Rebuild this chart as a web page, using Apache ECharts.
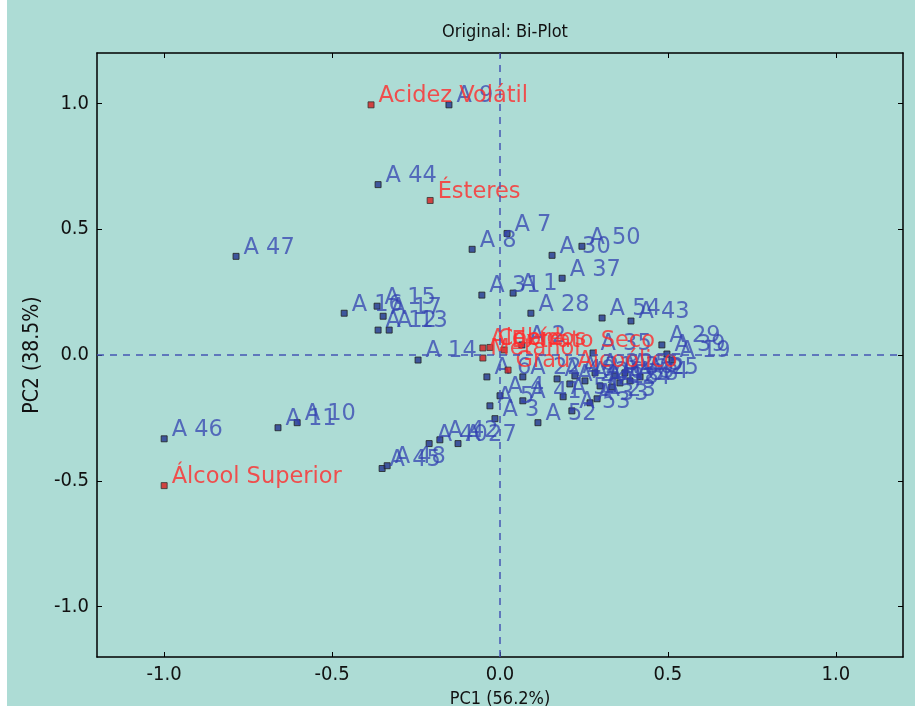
<!DOCTYPE html>
<html>
<head>
<meta charset="utf-8">
<script src="https://cdn.jsdelivr.net/npm/echarts@6/dist/echarts.min.js"></script>
<style>
html,body{margin:0;padding:0;background:#addcd5;}
#strip{position:absolute;left:0;top:0;width:7px;height:706px;background:#fff;z-index:2;}
#chart{position:absolute;left:0;top:0;width:915px;height:706px;}
</style>
</head>
<body>
<div id="chart"></div>
<div id="strip"></div>
<script>
// Sample scores (blue)
const sampleNames = ["A 9","A 44","A 47","A 7","A 8","A 30","A 50","A 37","A 31","A 1","A 28","A 54","A 43","A 29","A 39","A 19","A 35","A 2","A 6","A 22","A 4","A 5","A 41","A 3","A 52","A 40","A 42","A 27","A 45","A 48","A 46","A 11","A 10","A 16","A 15","A 17","A 12","A 13","A 14","A 49","A 51","A 20","A 53","A 33","A 21","A 26","A 18","A 32","A 24","A 36","A 38","A 55","A 34","A 25","A 23"];
const sampleX = [-0.152,-0.363,-0.786,0.021,-0.083,0.155,0.244,0.185,-0.054,0.039,0.092,0.304,0.390,0.482,0.497,0.512,0.277,0.065,-0.039,0.068,0.000,-0.030,0.068,-0.015,0.113,-0.211,-0.179,-0.125,-0.351,-0.336,-1.000,-0.661,-0.604,-0.464,-0.366,-0.348,-0.363,-0.330,-0.244,0.170,0.188,0.208,0.214,0.268,0.223,0.253,0.298,0.283,0.333,0.342,0.357,0.372,0.387,0.417,0.289];
const sampleY = [0.994,0.677,0.392,0.483,0.420,0.396,0.432,0.305,0.238,0.246,0.166,0.147,0.135,0.040,0.004,-0.020,0.008,0.040,-0.087,-0.087,-0.162,-0.202,-0.182,-0.253,-0.269,-0.352,-0.337,-0.352,-0.451,-0.440,-0.333,-0.289,-0.269,0.166,0.194,0.154,0.099,0.099,-0.020,-0.095,-0.166,-0.115,-0.222,-0.190,-0.083,-0.103,-0.123,-0.071,-0.127,-0.083,-0.111,-0.071,-0.103,-0.087,-0.174];

// Variable loadings (red)
const varNames = ["Acidez Volátil","Ésteres","Álcool Superior","Aldeídos","Cobre","Metanol","Extrato Seco","Grau Alcoólico"];
const varX = [-0.384,-0.208,-1.000,-0.051,-0.030,-0.051,0.012,0.024];
const varY = [0.994,0.614,-0.519,0.028,0.030,-0.012,0.020,-0.060];

const xTicks = [-1.0,-0.5,0.0,0.5,1.0];
const yTicks = [-1.0,-0.5,0.0,0.5,1.0];

const samples = sampleNames.map((n,i)=>({name:n,value:[sampleX[i],sampleY[i]]}));
const vars = varNames.map((n,i)=>({name:n,value:[varX[i],varY[i]]}));

const cond = "'DejaVu Sans Condensed','DejaVu Sans',sans-serif";
const chart = echarts.init(document.getElementById('chart'), null, {renderer:'canvas'});
const axisCommon = {
  type:'value', min:-1.2, max:1.2,
  axisLine:{show:true,onZero:false,lineStyle:{color:'#000',width:1.5}},
  splitLine:{show:false}
};
const labelBase = {show:true,position:[11,-5],align:'left',verticalAlign:'middle',formatter:'{b}',
  fontFamily:"'DejaVu Sans',sans-serif",fontSize:22.5,lineHeight:23};
chart.setOption({
  backgroundColor:'#addcd5',
  animation:false,
  title:{text:'Original: Bi-Plot',left:500,top:18,textAlign:'center',
    textStyle:{fontFamily:cond,fontSize:18,fontWeight:'normal',color:'#111'}},
  grid:{left:97,right:12,top:53,bottom:49,containLabel:false,outerBoundsMode:'none'},
  xAxis:[
    Object.assign({},axisCommon,{position:'bottom',name:'PC1 (56.2%)',nameLocation:'middle',nameGap:33,
      nameTextStyle:{fontFamily:cond,fontSize:18,color:'#111'},
      axisTick:{show:true,inside:true,length:5,customValues:xTicks,lineStyle:{color:'#000'}},
      axisLabel:{show:true,customValues:xTicks,margin:8,fontFamily:cond,fontSize:20,color:'#111',formatter:v=>v.toFixed(1)}}),
    Object.assign({},axisCommon,{position:'top',
      axisTick:{show:true,inside:true,length:5,customValues:xTicks,lineStyle:{color:'#000'}},
      axisLabel:{show:false}})
  ],
  yAxis:[
    Object.assign({},axisCommon,{position:'left',name:'PC2 (38.5%)',nameLocation:'middle',nameGap:53,nameRotate:90,
      nameTextStyle:{fontFamily:cond,fontSize:21,color:'#111'},
      axisTick:{show:true,inside:true,length:5,customValues:yTicks,lineStyle:{color:'#000'}},
      axisLabel:{show:true,customValues:yTicks,margin:8,fontFamily:cond,fontSize:20,color:'#111',formatter:v=>v.toFixed(1)}}),
    Object.assign({},axisCommon,{position:'right',
      axisTick:{show:true,inside:true,length:5,customValues:yTicks,lineStyle:{color:'#000'}},
      axisLabel:{show:false}})
  ],
  series:[
    {
      type:'scatter', name:'samples', xAxisIndex:0, yAxisIndex:0,
      symbol:'rect', symbolSize:6,
      itemStyle:{color:'#22358f',borderColor:'#222',borderWidth:1},
      label:Object.assign({},labelBase,{color:'rgba(50,64,176,0.92)'}),
      labelLayout:{hideOverlap:false},
      markLine:{silent:true,symbol:['none','none'],label:{show:false},
        lineStyle:{color:'#4656b4',type:[7,6],width:1.5},
        data:[{xAxis:0},{yAxis:0}]},
      data:samples, z:3
    },
    {
      type:'scatter', name:'vars', xAxisIndex:0, yAxisIndex:0,
      symbol:'rect', symbolSize:6,
      itemStyle:{color:'#d81c1c',borderColor:'#333',borderWidth:1},
      label:Object.assign({},labelBase,{color:'#ff2b2b'}),
      labelLayout:{hideOverlap:false},
      data:vars, z:4
    }
  ]
});
</script>
</body>
</html>
